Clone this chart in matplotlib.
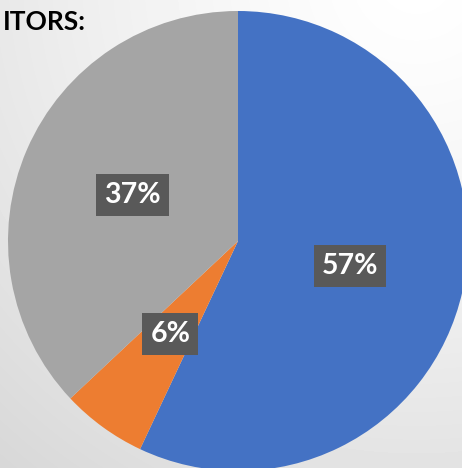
import numpy as np
import matplotlib
matplotlib.use('Agg')
import matplotlib.pyplot as plt

shares = [57, 6, 37]
pct_labels = ['57%', '6%', '37%']
colors = ['#4472C4', '#ED7D31', '#A5A5A5']
title_text = 'ITORS:'

W, H = 462, 468
fig = plt.figure(figsize=(W / 100, H / 100), dpi=100)
ax = fig.add_axes([0, 0, 1, 1])

# radial background, light at top right, grey at bottom left
yy, xx = np.mgrid[0:H, 0:W]
d = np.hypot(xx - W * 0.9, yy - H * 1.05) / np.hypot(W, H)
bg = 1.0 - 0.16 * np.clip(d, 0, 1) ** 1.3
ax.imshow(bg, cmap='gray', vmin=0, vmax=1, extent=(0, W, 0, H), origin='lower', zorder=0)

wedges, texts, autotexts = ax.pie(
    shares, colors=colors, startangle=90, counterclock=False,
    center=(238, H - 241), radius=230, autopct='%d%%', pctdistance=0.5,
    wedgeprops=dict(linewidth=0), frame=True)
for t, lab in zip(autotexts, pct_labels):
    t.set_text(lab)
    t.set_color('white')
    t.set_fontsize(20.5)
    t.set_fontweight('bold')
    t.set_fontfamily('Lato')
    t.set_bbox(dict(boxstyle='square,pad=0.28', facecolor='#595959', edgecolor='none'))

ax.text(3, H - 22, title_text, fontsize=19, fontweight='bold', fontfamily='Lato',
        color='black', ha='left', va='center')

ax.set_xlim(0, W)
ax.set_ylim(0, H)
ax.set_aspect('equal')
ax.axis('off')

fig.savefig('out.png', dpi=100)
